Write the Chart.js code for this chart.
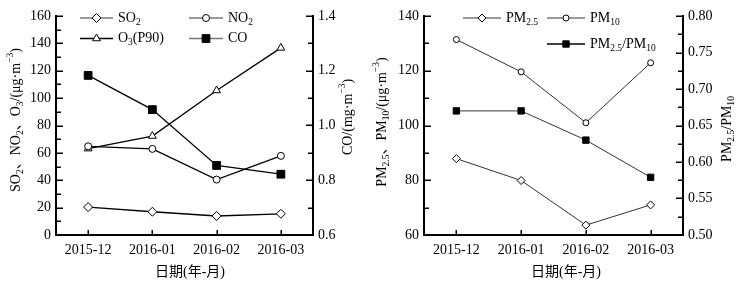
<!DOCTYPE html>
<html>
<head>
<meta charset="utf-8">
<script src="https://cdn.jsdelivr.net/npm/chart.js@4/dist/chart.umd.min.js"></script>
<style>
  body { margin: 0; background: #fff; }
  #wrap { position: relative; width: 743px; height: 286px; }
  canvas { position: absolute; top: 0; }
</style>
</head>
<body>
<div id="wrap">
  <canvas id="gasChart" width="371" height="286" style="left:0;width:371px;height:286px"></canvas>
  <canvas id="pmChart" width="372" height="286" style="left:371px;width:372px;height:286px"></canvas>
</div>
<script>
// Data
const months = ['2015-12', '2016-01', '2016-02', '2016-03'];
const so2 = [20.4, 17.0, 13.9, 15.5];
const no2 = [64.8, 62.9, 40.5, 57.8];
const o3 = [63.1, 72.3, 105.6, 136.7];
const co = [1.183, 1.058, 0.854, 0.822];
const pm25 = [87.9, 79.9, 63.6, 71.0];
const pm10 = [131.4, 119.6, 101.0, 122.9];
const pmRatio = [0.670, 0.670, 0.630, 0.579];

const FONT = '"Liberation Serif", "Times New Roman", "Noto Sans CJK SC", serif';
Chart.defaults.font.family = FONT;
Chart.defaults.font.size = 14;
Chart.defaults.color = '#000';

// Draw text made of parts: [text, ''|'sub'|'sup']
function drawRich(ctx, parts, x, y, size, align) {
  const widths = parts.map(([t, m]) => {
    ctx.font = (m ? size * 0.68 : size) + 'px ' + FONT;
    return ctx.measureText(t).width;
  });
  const total = widths.reduce((a, b) => a + b, 0);
  let cx = align === 'center' ? x - total / 2 : x;
  ctx.textAlign = 'left';
  ctx.textBaseline = 'middle';
  parts.forEach(([t, m], i) => {
    ctx.font = (m ? size * 0.68 : size) + 'px ' + FONT;
    const dy = m === 'sub' ? size * 0.3 : m === 'sup' ? -size * 0.38 : 0;
    ctx.fillText(t, cx, y + dy);
    cx += widths[i];
  });
}

// Inward major/minor tick marks on both y axes and the x axis
const inwardTicks = {
  id: 'inwardTicks',
  beforeDatasetsDraw(chart, args, opts) {
    const ctx = chart.ctx;
    const area = chart.chartArea;
    ctx.save();
    ctx.strokeStyle = '#000';
    ctx.lineWidth = 1.5;
    ['y', 'y1'].forEach(id => {
      const s = chart.scales[id];
      const minor = opts[id];
      const n = Math.round((s.max - s.min) / minor);
      const x0 = id === 'y' ? area.left : area.right;
      const dir = id === 'y' ? 1 : -1;
      for (let i = 0; i <= n; i++) {
        const py = Math.round(s.getPixelForValue(s.min + i * minor)) + 0.25;
        const len = i % 2 === 0 ? 7 : 5;
        ctx.beginPath();
        ctx.moveTo(x0, py);
        ctx.lineTo(x0 + dir * len, py);
        ctx.stroke();
      }
    });
    const xs = chart.scales.x;
    xs.ticks.forEach((t, i) => {
      const px = Math.round(xs.getPixelForTick(i)) + 0.25;
      ctx.beginPath();
      ctx.moveTo(px, area.bottom);
      ctx.lineTo(px, area.bottom - 5);
      ctx.stroke();
    });
    ctx.restore();
  }
};

// Legend inside plot and axis titles with sub/superscripts
const richText = {
  id: 'richText',
  afterDraw(chart, args, opts) {
    const ctx = chart.ctx;
    ctx.save();
    ctx.fillStyle = '#000';
    opts.legend.forEach(item => {
      const ds = chart.data.datasets[item.ds];
      ctx.strokeStyle = item.lineColor;
      ctx.lineWidth = 1.5;
      ctx.beginPath();
      ctx.moveTo(item.x, item.y);
      ctx.lineTo(item.x + item.len, item.y);
      ctx.stroke();
      ctx.fillStyle = ds.pointBackgroundColor;
      ctx.strokeStyle = ds.pointBorderColor;
      ctx.lineWidth = ds.pointBorderWidth;
      Chart.helpers.drawPoint(ctx, {
        pointStyle: ds.pointStyle, radius: ds.pointRadius, rotation: 0, borderWidth: ds.pointBorderWidth
      }, item.x + item.len / 2, item.y);
      ctx.fillStyle = '#000';
      drawRich(ctx, ds.richLabel, item.x + item.len + 5, item.y, 14, 'left');
    });
    opts.titles.forEach(t => {
      ctx.save();
      ctx.translate(t.x, t.y);
      if (t.rotate) ctx.rotate(-Math.PI / 2);
      drawRich(ctx, t.parts, 0, 0, 14, 'center');
      ctx.restore();
    });
    ctx.restore();
  }
};

function axisOpts(extra, width) {
  return Object.assign({
    grid: { display: false, drawTicks: false },
    border: { color: '#000', width: 2 },
    ticks: { padding: 5, color: '#000', font: { size: 14 } },
    afterFit: s => { s.width = width; }
  }, extra);
}

function xAxis(height) {
  return {
    type: 'category',
    offset: true,
    grid: { display: false, drawTicks: false },
    border: { color: '#000', width: 2 },
    ticks: { padding: 7, color: '#000', maxRotation: 0, font: { size: 14 } },
    afterFit: s => { s.height = height; }
  };
}

function series(label, richLabel, data, axis, style, radius, fill, lineColor, lineWidth) {
  return {
    label: label,
    richLabel: richLabel,
    data: data,
    yAxisID: axis,
    borderColor: lineColor,
    borderWidth: lineWidth,
    pointStyle: style,
    pointRadius: radius,
    pointBackgroundColor: fill,
    pointBorderColor: '#000',
    pointBorderWidth: 1,
    tension: 0
  };
}

// Left chart: gaseous pollutants
new Chart(document.getElementById('gasChart'), {
  type: 'line',
  data: {
    labels: months,
    datasets: [
      series('SO2', [['SO', ''], ['2', 'sub']], so2, 'y', 'rectRot', 4.5, '#fff', '#000', 1.3),
      series('NO2', [['NO', ''], ['2', 'sub']], no2, 'y', 'circle', 3.5, '#fff', '#000', 1.3),
      series('O3(P90)', [['O', ''], ['3', 'sub'], ['(P90)', '']], o3, 'y', 'triangle', 4.5, '#fff', '#000', 1.3),
      series('CO', [['CO', '']], co, 'y1', 'rect', 5.5, '#000', '#000', 1.3)
    ]
  },
  options: {
    responsive: false,
    animation: false,
    devicePixelRatio: 1,
    layout: { padding: { top: 16 } },
    plugins: {
      legend: { display: false },
      tooltip: { enabled: false },
      inwardTicks: { y: 10, y1: 0.1 },
      richText: {
        legend: [
          { ds: 0, x: 80, y: 18, len: 33, lineColor: '#777' },
          { ds: 1, x: 189, y: 18, len: 34, lineColor: '#777' },
          { ds: 2, x: 80, y: 38.5, len: 33, lineColor: '#000' },
          { ds: 3, x: 189, y: 38.5, len: 34, lineColor: '#777' }
        ],
        titles: [
          { x: 16, y: 120, rotate: true, parts: [['SO', ''], ['2', 'sub'], ['、NO', ''], ['2', 'sub'], ['、O', ''], ['3', 'sub'], ['/(μg·m', ''], ['−3', 'sup'], [')', '']] },
          { x: 348, y: 117, rotate: true, parts: [['CO/(mg·m', ''], ['−3', 'sup'], [')', '']] },
          { x: 190, y: 272, rotate: false, parts: [['日期(年-月)', '']] }
        ]
      }
    },
    scales: {
      x: xAxis(51),
      y: axisOpts({ position: 'left', min: 0, max: 160, ticks: { stepSize: 20, padding: 5, color: '#000' } }, 56),
      y1: axisOpts({ position: 'right', min: 0.6, max: 1.4, ticks: { stepSize: 0.2, padding: 5, color: '#000', callback: v => v.toFixed(1) } }, 58)
    }
  },
  plugins: [inwardTicks, richText]
});

// Right chart: particulate matter
new Chart(document.getElementById('pmChart'), {
  type: 'line',
  data: {
    labels: months,
    datasets: [
      series('PM2.5', [['PM', ''], ['2.5', 'sub']], pm25, 'y', 'rectRot', 4, '#fff', '#333', 1),
      series('PM10', [['PM', ''], ['10', 'sub']], pm10, 'y', 'circle', 3, '#fff', '#333', 1),
      series('PM2.5/PM10', [['PM', ''], ['2.5', 'sub'], ['/PM', ''], ['10', 'sub']], pmRatio, 'y1', 'rect', 4.5, '#000', '#333', 1)
    ]
  },
  options: {
    responsive: false,
    animation: false,
    devicePixelRatio: 1,
    layout: { padding: { top: 16 } },
    plugins: {
      legend: { display: false },
      tooltip: { enabled: false },
      inwardTicks: { y: 10, y1: 0.025 },
      richText: {
        legend: [
          { ds: 0, x: 92, y: 18, len: 38, lineColor: '#777' },
          { ds: 1, x: 176, y: 18, len: 38, lineColor: '#777' },
          { ds: 2, x: 176, y: 44, len: 38, lineColor: '#000' }
        ],
        titles: [
          { x: 11, y: 122, rotate: true, parts: [['PM', ''], ['2.5', 'sub'], ['、PM', ''], ['10', 'sub'], ['/(μg·m', ''], ['−3', 'sup'], [')', '']] },
          { x: 356, y: 129, rotate: true, parts: [['PM', ''], ['2.5', 'sub'], ['/PM', ''], ['10', 'sub']] },
          { x: 195, y: 272, rotate: false, parts: [['日期(年-月)', '']] }
        ]
      }
    },
    scales: {
      x: xAxis(51),
      y: axisOpts({ position: 'left', min: 60, max: 140, ticks: { stepSize: 20, padding: 5, color: '#000' } }, 53),
      y1: axisOpts({ position: 'right', min: 0.5, max: 0.8, ticks: { stepSize: 0.05, padding: 5, color: '#000', callback: v => v.toFixed(2) } }, 60)
    }
  },
  plugins: [inwardTicks, richText]
});
</script>
</body>
</html>
